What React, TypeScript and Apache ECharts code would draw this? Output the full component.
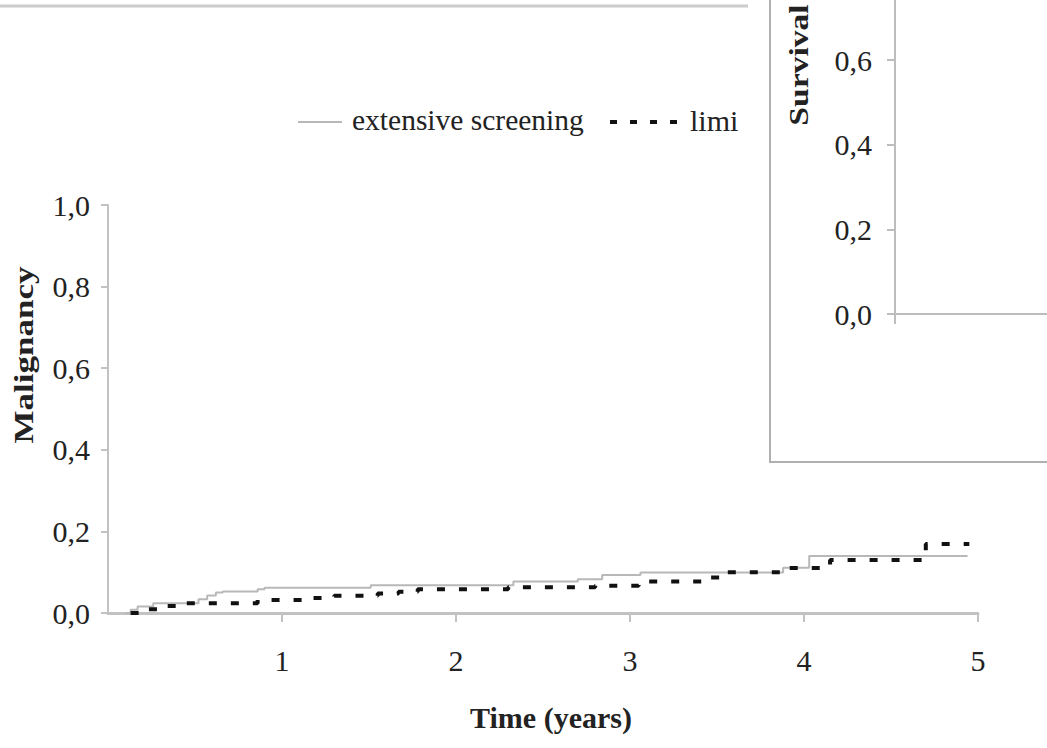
import React, { useEffect, useRef } from "react";
import * as echarts from "echarts";

// Cumulative incidence of malignancy, step points as [time (years), proportion]
const extensiveScreening: [number, number][] = [
  [0.1, 0.0],
  [0.13, 0.008],
  [0.17, 0.016],
  [0.26, 0.024],
  [0.52, 0.034],
  [0.57, 0.043],
  [0.62, 0.05],
  [0.66, 0.053],
  [0.86, 0.058],
  [0.9, 0.062],
  [1.51, 0.068],
  [2.33, 0.077],
  [2.7, 0.083],
  [2.84, 0.093],
  [3.06, 0.099],
  [3.88, 0.111],
  [4.03, 0.14],
  [4.94, 0.14],
];

const limitedScreening: [number, number][] = [
  [0.13, 0.0],
  [0.18, 0.009],
  [0.3, 0.017],
  [0.4, 0.024],
  [0.86, 0.032],
  [1.17, 0.037],
  [1.3, 0.042],
  [1.55, 0.048],
  [1.67, 0.052],
  [1.78, 0.058],
  [2.3, 0.063],
  [2.8, 0.067],
  [3.05, 0.077],
  [3.45, 0.087],
  [3.52, 0.1],
  [3.9, 0.11],
  [4.15, 0.13],
  [4.7, 0.169],
  [4.95, 0.169],
];

const seriesNames = ["extensive screening", "limited screening"];
const xTickLabels = ["0", "1", "2", "3", "4", "5"];
const yTickLabels = ["0,0", "0,2", "0,4", "0,6", "0,8", "1,0"];

const FONT = "Liberation Serif, Times New Roman, serif";
const TEXT = "#222";
const AXIS = "#c2c2c2";

const yLabel = (v: number) => yTickLabels[Math.round(v / 0.2)] ?? "";
const xLabel = (v: number) => xTickLabels[Math.round(v)] ?? "";

export default function App() {
  const ref = useRef<HTMLDivElement>(null);

  useEffect(() => {
    if (!ref.current) return;
    const chart = echarts.init(ref.current, undefined, { renderer: "svg" });

    // inset panel: 0.0 sits at y=314, 0.2 per 84.7px, top part runs off the page
    const insetUnit = 423.3;

    chart.setOption({
      animation: false,
      backgroundColor: "#ffffff",
      grid: [
        { left: 108, right: 69, top: 205, bottom: 135, outerBoundsMode: "none" },
        {
          left: 895,
          width: 870,
          bottom: 434,
          height: 0.8 * insetUnit,
          outerBoundsMode: "none",
        },
      ],
      xAxis: [
        {
          type: "value",
          gridIndex: 0,
          min: 0,
          max: 5,
          interval: 1,
          axisLine: { lineStyle: { color: AXIS, width: 3 } },
          axisTick: { show: true, length: 9, lineStyle: { color: AXIS, width: 2 } },
          axisLabel: {
            showMinLabel: false,
            margin: 32,
            fontSize: 30,
            fontFamily: FONT,
            color: TEXT,
            formatter: xLabel,
          },
          splitLine: { show: false },
        },
        {
          type: "value",
          gridIndex: 1,
          min: 0,
          max: 5,
          interval: 1,
          z: 10,
          axisLine: { lineStyle: { color: "#bdbdbd", width: 2 } },
          axisTick: { show: true, length: 10, lineStyle: { color: "#bdbdbd", width: 2 } },
          axisLabel: { show: false },
          splitLine: { show: false },
        },
      ],
      yAxis: [
        {
          type: "value",
          gridIndex: 0,
          min: 0,
          max: 1,
          interval: 0.2,
          axisLine: { show: true, lineStyle: { color: AXIS, width: 2 } },
          axisTick: { show: true, length: 7, lineStyle: { color: AXIS, width: 2 } },
          axisLabel: {
            margin: 18,
            fontSize: 30,
            fontFamily: FONT,
            color: TEXT,
            formatter: yLabel,
          },
          splitLine: { show: false },
        },
        {
          type: "value",
          gridIndex: 1,
          min: 0,
          max: 0.8,
          interval: 0.2,
          z: 10,
          axisLine: { show: true, lineStyle: { color: "#bdbdbd", width: 2 } },
          axisTick: { show: true, length: 8, lineStyle: { color: "#bdbdbd", width: 2 } },
          axisLabel: {
            showMaxLabel: false,
            margin: 23,
            fontSize: 30,
            fontFamily: FONT,
            color: TEXT,
            formatter: yLabel,
          },
          splitLine: { show: false },
        },
      ],
      series: [
        {
          name: seriesNames[0],
          type: "line",
          xAxisIndex: 0,
          yAxisIndex: 0,
          step: "end",
          symbol: "none",
          data: extensiveScreening,
          lineStyle: { color: "#b8b8b8", width: 2 },
          z: 2,
        },
        {
          name: seriesNames[1],
          type: "line",
          xAxisIndex: 0,
          yAxisIndex: 0,
          step: "end",
          symbol: "none",
          data: limitedScreening,
          lineStyle: { color: "#111111", width: 4, type: [8, 14], cap: "butt" },
          z: 3,
        },
      ],
      graphic: [
        {
          type: "line",
          z: 1,
          shape: { x1: 0, y1: 6, x2: 748, y2: 6 },
          style: { stroke: "#cccccc", lineWidth: 3 },
        },
        // legend
        {
          type: "line",
          z: 1,
          shape: { x1: 298, y1: 122, x2: 342, y2: 122 },
          style: { stroke: "#b8b8b8", lineWidth: 2 },
        },
        {
          type: "text",
          z: 1,
          x: 352,
          y: 120,
          style: {
            text: seriesNames[0],
            fontSize: 29.5,
            fontFamily: FONT,
            fill: TEXT,
            align: "left",
            verticalAlign: "middle",
          },
        },
        {
          type: "line",
          z: 1,
          shape: { x1: 610, y1: 122, x2: 680, y2: 122 },
          style: { stroke: "#111111", lineWidth: 4, lineDash: [7, 13] },
        },
        {
          type: "text",
          z: 1,
          x: 690,
          y: 120,
          style: {
            text: seriesNames[1],
            fontSize: 30,
            fontFamily: FONT,
            fill: TEXT,
            align: "left",
            verticalAlign: "middle",
            width: 54,
            overflow: "truncate",
            ellipsis: "",
          },
        },
        // inset panel
        {
          type: "rect",
          z: 5,
          shape: { x: 770, y: -20, width: 400, height: 482 },
          style: { fill: "#ffffff", stroke: "#b0b0b0", lineWidth: 2 },
        },
        {
          type: "text",
          z: 11,
          x: 798,
          y: 65,
          rotation: Math.PI / 2,
          scaleX: 1.2,
          style: {
            text: "Survival",
            fontSize: 28,
            fontWeight: "bold",
            fontFamily: FONT,
            fill: TEXT,
            align: "center",
            verticalAlign: "middle",
          },
        },
        // axis titles
        {
          type: "text",
          z: 1,
          x: 24,
          y: 355,
          rotation: Math.PI / 2,
          scaleX: 1.25,
          style: {
            text: "Malignancy",
            fontSize: 28,
            fontWeight: "bold",
            fontFamily: FONT,
            fill: TEXT,
            align: "center",
            verticalAlign: "middle",
          },
        },
        {
          type: "text",
          z: 1,
          x: 551,
          y: 717,
          style: {
            text: "Time (years)",
            fontSize: 30,
            fontWeight: "bold",
            fontFamily: FONT,
            fill: TEXT,
            align: "center",
            verticalAlign: "middle",
          },
        },
      ],
    });

    return () => chart.dispose();
  }, []);

  return (
    <div
      ref={ref}
      style={{
        position: "fixed",
        left: 0,
        top: 0,
        width: 1047,
        height: 748,
        background: "#ffffff",
      }}
    />
  );
}
